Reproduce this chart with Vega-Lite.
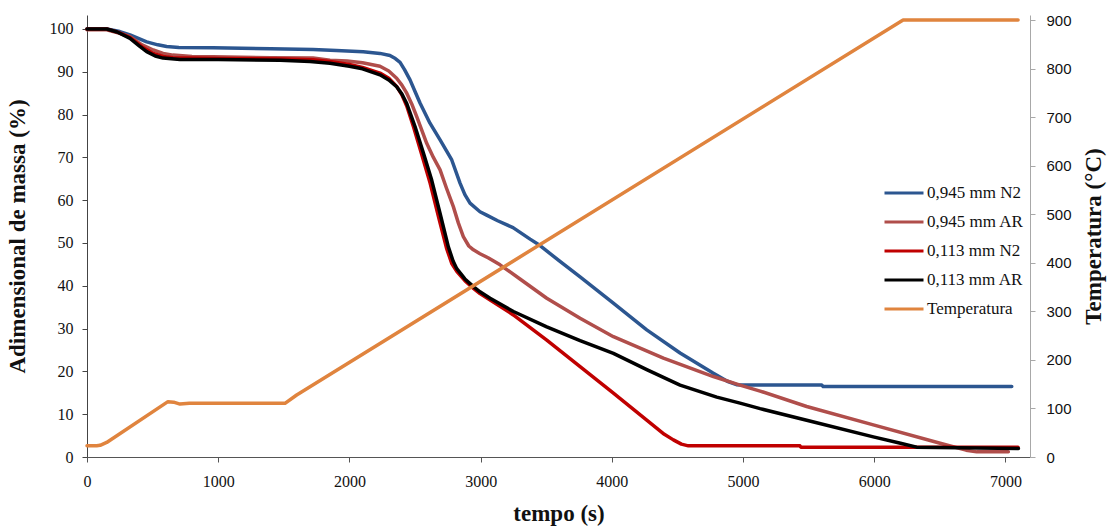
{
  "$schema": "https://vega.github.io/schema/vega-lite/v6.json",
  "width": 943,
  "height": 442,
  "autosize": {"type": "none"},
  "padding": {"left": 87, "top": 15, "right": 81, "bottom": 73},
  "background": "white",
  "config": {
    "font": "Liberation Serif",
    "view": {"stroke": null},
    "axis": {"grid": false, "labelFont": "Liberation Serif", "labelFontSize": 16, "labelColor": "#111", "titleFont": "Liberation Serif", "titleFontSize": 23, "titleFontWeight": "bold", "titleColor": "#111", "tickSize": 5, "domainColor": "#555", "tickColor": "#555"}
  },
  "datasets": {
    "mass": [
      {"t":0,"m":100,"s":"0,945 mm N2"},{"t":150,"m":100,"s":"0,945 mm N2"},{"t":250,"m":99.4,"s":"0,945 mm N2"},{"t":328,"m":98.6,"s":"0,945 mm N2"},{"t":455,"m":97.0,"s":"0,945 mm N2"},{"t":540,"m":96.3,"s":"0,945 mm N2"},{"t":607,"m":95.9,"s":"0,945 mm N2"},{"t":700,"m":95.7,"s":"0,945 mm N2"},{"t":960,"m":95.6,"s":"0,945 mm N2"},{"t":1400,"m":95.4,"s":"0,945 mm N2"},{"t":1723,"m":95.2,"s":"0,945 mm N2"},{"t":1900,"m":95.0,"s":"0,945 mm N2"},{"t":2105,"m":94.7,"s":"0,945 mm N2"},{"t":2233,"m":94.3,"s":"0,945 mm N2"},{"t":2309,"m":93.8,"s":"0,945 mm N2"},{"t":2350,"m":93.1,"s":"0,945 mm N2"},{"t":2386,"m":92.2,"s":"0,945 mm N2"},{"t":2420,"m":90.5,"s":"0,945 mm N2"},{"t":2462,"m":88.1,"s":"0,945 mm N2"},{"t":2500,"m":85.4,"s":"0,945 mm N2"},{"t":2538,"m":82.7,"s":"0,945 mm N2"},{"t":2614,"m":78.0,"s":"0,945 mm N2"},{"t":2691,"m":74.1,"s":"0,945 mm N2"},{"t":2740,"m":71.5,"s":"0,945 mm N2"},{"t":2780,"m":69.4,"s":"0,945 mm N2"},{"t":2843,"m":64.0,"s":"0,945 mm N2"},{"t":2880,"m":61.3,"s":"0,945 mm N2"},{"t":2919,"m":59.3,"s":"0,945 mm N2"},{"t":2995,"m":57.3,"s":"0,945 mm N2"},{"t":3046,"m":56.5,"s":"0,945 mm N2"},{"t":3130,"m":55.2,"s":"0,945 mm N2"},{"t":3247,"m":53.6,"s":"0,945 mm N2"},{"t":3377,"m":50.9,"s":"0,945 mm N2"},{"t":3453,"m":49.4,"s":"0,945 mm N2"},{"t":3600,"m":45.8,"s":"0,945 mm N2"},{"t":3758,"m":42.1,"s":"0,945 mm N2"},{"t":4009,"m":36.0,"s":"0,945 mm N2"},{"t":4266,"m":29.7,"s":"0,945 mm N2"},{"t":4520,"m":24.3,"s":"0,945 mm N2"},{"t":4771,"m":19.6,"s":"0,945 mm N2"},{"t":4880,"m":17.7,"s":"0,945 mm N2"},{"t":4950,"m":16.9,"s":"0,945 mm N2"},{"t":5000,"m":16.8,"s":"0,945 mm N2"},{"t":5600,"m":16.8,"s":"0,945 mm N2"},{"t":5610,"m":16.5,"s":"0,945 mm N2"},{"t":7048,"m":16.5,"s":"0,945 mm N2"},

      {"t":0,"m":99.8,"s":"0,945 mm AR"},{"t":150,"m":99.8,"s":"0,945 mm AR"},{"t":250,"m":99.0,"s":"0,945 mm AR"},{"t":328,"m":98.2,"s":"0,945 mm AR"},{"t":420,"m":96.3,"s":"0,945 mm AR"},{"t":505,"m":95.1,"s":"0,945 mm AR"},{"t":580,"m":94.3,"s":"0,945 mm AR"},{"t":655,"m":93.9,"s":"0,945 mm AR"},{"t":800,"m":93.6,"s":"0,945 mm AR"},{"t":960,"m":93.5,"s":"0,945 mm AR"},{"t":1400,"m":93.3,"s":"0,945 mm AR"},{"t":1723,"m":93.2,"s":"0,945 mm AR"},{"t":1852,"m":92.7,"s":"0,945 mm AR"},{"t":1982,"m":92.5,"s":"0,945 mm AR"},{"t":2100,"m":92.1,"s":"0,945 mm AR"},{"t":2233,"m":91.3,"s":"0,945 mm AR"},{"t":2300,"m":90.2,"s":"0,945 mm AR"},{"t":2360,"m":88.5,"s":"0,945 mm AR"},{"t":2400,"m":86.9,"s":"0,945 mm AR"},{"t":2437,"m":85.0,"s":"0,945 mm AR"},{"t":2475,"m":82.5,"s":"0,945 mm AR"},{"t":2513,"m":79.5,"s":"0,945 mm AR"},{"t":2589,"m":73.3,"s":"0,945 mm AR"},{"t":2640,"m":70.0,"s":"0,945 mm AR"},{"t":2691,"m":67.1,"s":"0,945 mm AR"},{"t":2740,"m":62.8,"s":"0,945 mm AR"},{"t":2792,"m":58.5,"s":"0,945 mm AR"},{"t":2830,"m":54.7,"s":"0,945 mm AR"},{"t":2868,"m":51.5,"s":"0,945 mm AR"},{"t":2910,"m":49.3,"s":"0,945 mm AR"},{"t":2945,"m":48.4,"s":"0,945 mm AR"},{"t":2995,"m":47.5,"s":"0,945 mm AR"},{"t":3060,"m":46.5,"s":"0,945 mm AR"},{"t":3148,"m":44.9,"s":"0,945 mm AR"},{"t":3300,"m":41.6,"s":"0,945 mm AR"},{"t":3504,"m":37.1,"s":"0,945 mm AR"},{"t":3758,"m":32.4,"s":"0,945 mm AR"},{"t":4012,"m":28.1,"s":"0,945 mm AR"},{"t":4393,"m":23.1,"s":"0,945 mm AR"},{"t":4774,"m":18.8,"s":"0,945 mm AR"},{"t":4977,"m":16.8,"s":"0,945 mm AR"},{"t":5130,"m":15.4,"s":"0,945 mm AR"},{"t":5485,"m":11.8,"s":"0,945 mm AR"},{"t":5993,"m":7.5,"s":"0,945 mm AR"},{"t":6502,"m":3.2,"s":"0,945 mm AR"},{"t":6700,"m":1.6,"s":"0,945 mm AR"},{"t":6781,"m":1.2,"s":"0,945 mm AR"},{"t":7022,"m":1.2,"s":"0,945 mm AR"},

      {"t":0,"m":100,"s":"0,113 mm N2"},{"t":150,"m":100,"s":"0,113 mm N2"},{"t":240,"m":99.2,"s":"0,113 mm N2"},{"t":328,"m":98.0,"s":"0,113 mm N2"},{"t":420,"m":95.8,"s":"0,113 mm N2"},{"t":505,"m":94.3,"s":"0,113 mm N2"},{"t":580,"m":93.6,"s":"0,113 mm N2"},{"t":655,"m":93.3,"s":"0,113 mm N2"},{"t":1000,"m":93.1,"s":"0,113 mm N2"},{"t":1500,"m":93.0,"s":"0,113 mm N2"},{"t":1723,"m":92.8,"s":"0,113 mm N2"},{"t":1852,"m":92.4,"s":"0,113 mm N2"},{"t":2000,"m":91.7,"s":"0,113 mm N2"},{"t":2100,"m":91.0,"s":"0,113 mm N2"},{"t":2233,"m":89.7,"s":"0,113 mm N2"},{"t":2300,"m":88.5,"s":"0,113 mm N2"},{"t":2360,"m":86.6,"s":"0,113 mm N2"},{"t":2400,"m":84.6,"s":"0,113 mm N2"},{"t":2437,"m":82.0,"s":"0,113 mm N2"},{"t":2490,"m":77.0,"s":"0,113 mm N2"},{"t":2550,"m":70.8,"s":"0,113 mm N2"},{"t":2615,"m":64.0,"s":"0,113 mm N2"},{"t":2680,"m":56.0,"s":"0,113 mm N2"},{"t":2740,"m":48.8,"s":"0,113 mm N2"},{"t":2780,"m":45.2,"s":"0,113 mm N2"},{"t":2818,"m":43.4,"s":"0,113 mm N2"},{"t":2880,"m":41.2,"s":"0,113 mm N2"},{"t":2945,"m":39.4,"s":"0,113 mm N2"},{"t":2995,"m":38.2,"s":"0,113 mm N2"},{"t":3249,"m":33.2,"s":"0,113 mm N2"},{"t":3504,"m":27.3,"s":"0,113 mm N2"},{"t":3758,"m":21.1,"s":"0,113 mm N2"},{"t":4012,"m":14.9,"s":"0,113 mm N2"},{"t":4266,"m":8.6,"s":"0,113 mm N2"},{"t":4400,"m":5.3,"s":"0,113 mm N2"},{"t":4469,"m":4.0,"s":"0,113 mm N2"},{"t":4530,"m":3.0,"s":"0,113 mm N2"},{"t":4583,"m":2.6,"s":"0,113 mm N2"},{"t":5434,"m":2.6,"s":"0,113 mm N2"},{"t":5440,"m":2.3,"s":"0,113 mm N2"},{"t":7096,"m":2.3,"s":"0,113 mm N2"},

      {"t":0,"m":100,"s":"0,113 mm AR"},{"t":150,"m":100,"s":"0,113 mm AR"},{"t":230,"m":99.3,"s":"0,113 mm AR"},{"t":328,"m":97.8,"s":"0,113 mm AR"},{"t":400,"m":96.0,"s":"0,113 mm AR"},{"t":455,"m":94.7,"s":"0,113 mm AR"},{"t":520,"m":93.7,"s":"0,113 mm AR"},{"t":580,"m":93.2,"s":"0,113 mm AR"},{"t":709,"m":92.9,"s":"0,113 mm AR"},{"t":1000,"m":92.9,"s":"0,113 mm AR"},{"t":1471,"m":92.7,"s":"0,113 mm AR"},{"t":1700,"m":92.4,"s":"0,113 mm AR"},{"t":1852,"m":92.0,"s":"0,113 mm AR"},{"t":2000,"m":91.3,"s":"0,113 mm AR"},{"t":2100,"m":90.7,"s":"0,113 mm AR"},{"t":2233,"m":89.3,"s":"0,113 mm AR"},{"t":2300,"m":88.1,"s":"0,113 mm AR"},{"t":2360,"m":86.5,"s":"0,113 mm AR"},{"t":2400,"m":84.8,"s":"0,113 mm AR"},{"t":2437,"m":82.6,"s":"0,113 mm AR"},{"t":2500,"m":77.2,"s":"0,113 mm AR"},{"t":2564,"m":71.0,"s":"0,113 mm AR"},{"t":2627,"m":64.7,"s":"0,113 mm AR"},{"t":2691,"m":56.9,"s":"0,113 mm AR"},{"t":2754,"m":49.1,"s":"0,113 mm AR"},{"t":2790,"m":45.8,"s":"0,113 mm AR"},{"t":2818,"m":44.0,"s":"0,113 mm AR"},{"t":2880,"m":41.6,"s":"0,113 mm AR"},{"t":2945,"m":39.8,"s":"0,113 mm AR"},{"t":2995,"m":38.6,"s":"0,113 mm AR"},{"t":3072,"m":37.1,"s":"0,113 mm AR"},{"t":3250,"m":34.0,"s":"0,113 mm AR"},{"t":3504,"m":30.4,"s":"0,113 mm AR"},{"t":3758,"m":27.2,"s":"0,113 mm AR"},{"t":4012,"m":24.2,"s":"0,113 mm AR"},{"t":4266,"m":20.4,"s":"0,113 mm AR"},{"t":4520,"m":16.8,"s":"0,113 mm AR"},{"t":4800,"m":14.0,"s":"0,113 mm AR"},{"t":4977,"m":12.6,"s":"0,113 mm AR"},{"t":5130,"m":11.3,"s":"0,113 mm AR"},{"t":5485,"m":8.6,"s":"0,113 mm AR"},{"t":5993,"m":4.7,"s":"0,113 mm AR"},{"t":6200,"m":3.2,"s":"0,113 mm AR"},{"t":6323,"m":2.3,"s":"0,113 mm AR"},{"t":7099,"m":2.0,"s":"0,113 mm AR"}
    ],
    "temp": [
      {"t":0,"T":23,"s":"Temperatura"},{"t":74,"T":23,"s":"Temperatura"},{"t":100,"T":24,"s":"Temperatura"},{"t":150,"T":30,"s":"Temperatura"},{"t":617,"T":114,"s":"Temperatura"},{"t":660,"T":113,"s":"Temperatura"},{"t":709,"T":109,"s":"Temperatura"},{"t":780,"T":110.5,"s":"Temperatura"},{"t":1509,"T":110.5,"s":"Temperatura"},{"t":1598,"T":127.7,"s":"Temperatura"},{"t":6220,"T":900,"s":"Temperatura"},{"t":7096,"T":900,"s":"Temperatura"}
    ]
  },
  "encoding": {
    "x": {"field": "t", "type": "quantitative", "scale": {"domain": [0, 7187], "nice": false, "zero": false},
      "axis": {"title": "tempo (s)", "values": [0,1000,2000,3000,4000,5000,6000,7000], "format": "d", "labelPadding": 11, "titlePadding": 13, "labelFlush": false}}
  },
  "layer": [
    {
      "data": {"name": "mass"},
      "mark": {"type": "line", "strokeCap": "round", "strokeJoin": "round"},
      "encoding": {
        "y": {"field": "m", "type": "quantitative", "scale": {"domain": [0, 103.27], "nice": false},
          "axis": {"title": "Adimensional de massa (%)", "values": [0,10,20,30,40,50,60,70,80,90,100], "labelPadding": 9, "titlePadding": 20, "domainColor": "#444", "tickColor": "#444"}},
        "color": {"field": "s", "type": "nominal",
          "scale": {"domain": ["0,945 mm N2","0,945 mm AR","0,113 mm N2","0,113 mm AR","Temperatura"], "range": ["#2C5690","#B04E4B","#C00000","#000000","#E0843E"]},
          "legend": {"title": null, "orient": "none", "legendX": 796, "legendY": 157, "symbolType": "stroke", "symbolSize": 1521, "symbolStrokeWidth": 3, "labelFont": "Liberation Serif", "labelFontSize": 17, "labelColor": "#111", "labelOffset": 2, "rowPadding": -16, "padding": 0}},
        "strokeWidth": {"field": "s", "type": "nominal", "scale": {"domain": ["0,945 mm N2","0,945 mm AR","0,113 mm N2","0,113 mm AR"], "range": [3.5, 3.5, 1.8, 1.8]}, "legend": null}
      }
    },
    {
      "data": {"name": "temp"},
      "mark": {"type": "line", "strokeWidth": 3.5, "strokeCap": "round", "strokeJoin": "round"},
      "encoding": {
        "y": {"field": "T", "type": "quantitative", "scale": {"domain": [0, 910.3], "nice": false},
          "axis": {"orient": "right", "title": "Temperatura (°C)", "values": [0,100,200,300,400,500,600,700,800,900], "labelFont": "Liberation Sans", "labelFontSize": 15, "labelPadding": 11, "titlePadding": 11, "titleAngle": -90, "titleBaseline": "top", "domainColor": "#a8a8a8", "tickColor": "#a8a8a8"}},
        "color": {"field": "s", "type": "nominal"}
      }
    }
  ],
  "resolve": {"scale": {"y": "independent", "strokeWidth": "independent"}}
}
